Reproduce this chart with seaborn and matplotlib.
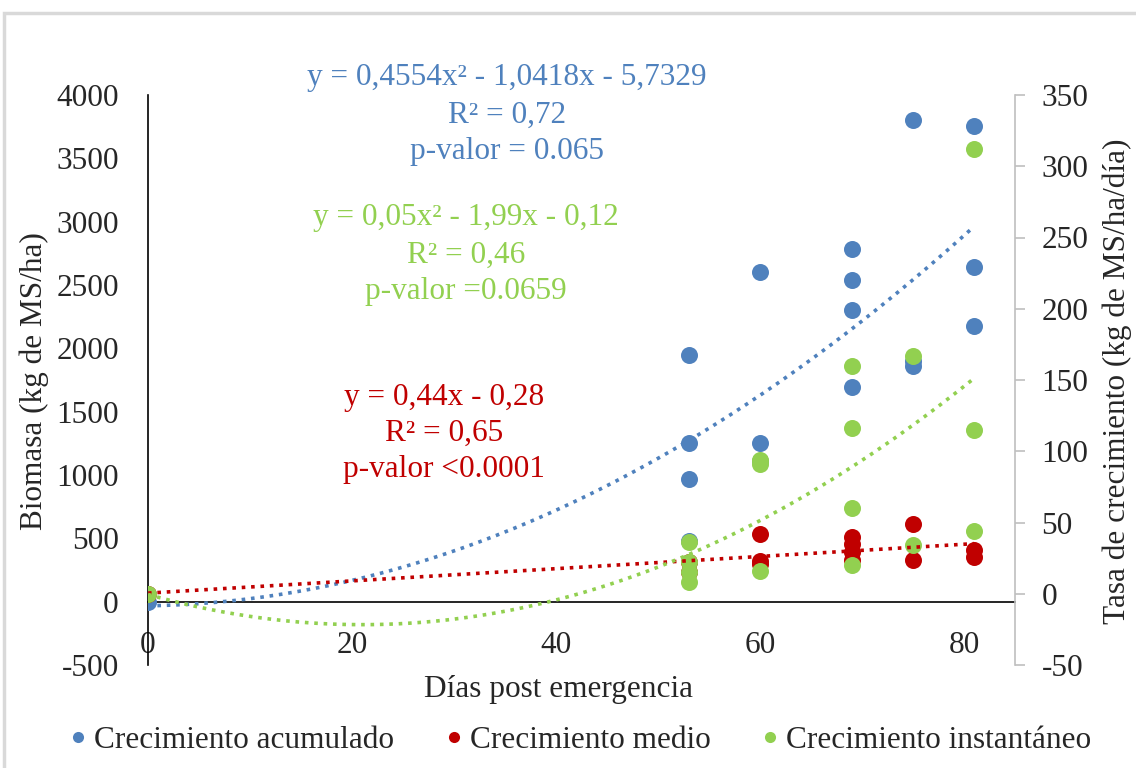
import numpy as np
import pandas as pd
import matplotlib
matplotlib.use("Agg")
import matplotlib.pyplot as plt
import seaborn as sns
from matplotlib.patches import Rectangle
from matplotlib.lines import Line2D

# ---------------- data ----------------
acum_x = [0, 53, 53, 53, 53, 60, 60, 60, 69, 69, 69, 69, 75, 75, 75, 81, 81, 81]
acum_y = [0, 1945, 1252, 966, 480, 2604, 1252, 1110, 2786, 2536, 2305, 1692,
          3804, 1900, 1862, 3752, 2641, 2180]

medio_x = [0, 53, 53, 60, 60, 60, 69, 69, 69, 69, 75, 75, 81, 81]
medio_y = [0, 22, 15, 42, 21, 23, 40, 35, 29, 24, 49, 24, 31, 26]

inst_x = [0, 53, 53, 53, 53, 60, 60, 60, 69, 69, 69, 69, 75, 75, 81, 81, 81]
inst_y = [0, 36, 22, 15, 8, 94, 91, 16, 160, 116, 60, 20, 167, 34, 312, 115, 44]

series_names = ["Crecimiento acumulado", "Crecimiento medio", "Crecimiento instantáneo"]
colors = ["#4F81BD", "#C00000", "#92D050"]

x_ticks = [0, 20, 40, 60, 80]
left_ticks = [-500, 0, 500, 1000, 1500, 2000, 2500, 3000, 3500, 4000]
right_ticks = [-50, 0, 50, 100, 150, 200, 250, 300, 350]

eq_blue = ["y = 0,4554x² - 1,0418x - 5,7329", "R² = 0,72", "p-valor = 0.065"]
eq_green = ["y = 0,05x² - 1,99x - 0,12", "R² = 0,46", "p-valor =0.0659"]
eq_red = ["y = 0,44x - 0,28", "R² = 0,65", "p-valor <0.0001"]

# ---------------- style ----------------
sns.set_style("white")
plt.rcParams["font.family"] = ["Liberation Serif", "DejaVu Serif"]
plt.rcParams["axes.unicode_minus"] = False
FS = 22.5

W, H = 1136, 768
fig = plt.figure(figsize=(W / 100, H / 100), dpi=100)

def fx(px):
    return px / W

def fy(py):
    return 1 - py / H

ax = fig.add_axes([fx(148), fy(665), 867 / W, 570 / H])
ax2 = ax.twinx()
ax2.set_position([fx(148), fy(665), 867 / W, 570 / H])

df_a = pd.DataFrame({"x": acum_x, "y": acum_y})
df_m = pd.DataFrame({"x": medio_x, "y": medio_y})
df_i = pd.DataFrame({"x": inst_x, "y": inst_y})

ms = 150
sns.scatterplot(data=df_a, x="x", y="y", ax=ax, color=colors[0], s=ms,
                linewidth=0, legend=False, zorder=3)
sns.scatterplot(data=df_m, x="x", y="y", ax=ax2, color=colors[1], s=ms,
                linewidth=0, legend=False, zorder=3)
sns.scatterplot(data=df_i, x="x", y="y", ax=ax2, color=colors[2], s=ms,
                linewidth=0, legend=False, zorder=4)

# trend lines (least squares fits, like the spreadsheet trendlines)
xs = np.linspace(0, max(acum_x), 200)
pa = np.polyfit(acum_x, acum_y, 2)
pm = np.polyfit(medio_x, medio_y, 1)
pi = np.polyfit(inst_x, inst_y, 2)
dot = (0, (1, 1.6))
sns.lineplot(x=xs, y=np.polyval(pa, xs), ax=ax, color=colors[0], lw=2.6,
             linestyle=dot, zorder=5)
sns.lineplot(x=xs, y=np.polyval(pm, xs), ax=ax2, color=colors[1], lw=2.6,
             linestyle=dot, zorder=5)
sns.lineplot(x=xs, y=np.polyval(pi, xs), ax=ax2, color=colors[2], lw=2.6,
             linestyle=dot, zorder=5)

# ---------------- axes ----------------
ax.set_xlim(0, 85)
ax.set_ylim(-500, 4000)
ax2.set_ylim(-50, 350)
ax.set_xticks(x_ticks)
ax.set_yticks(left_ticks)
ax2.set_yticks(right_ticks)
ax.set_xlabel("")
ax.set_ylabel("")
ax2.set_xlabel("")
ax2.set_ylabel("")

for a in (ax, ax2):
    for s in a.spines.values():
        s.set_visible(False)
ax.spines["left"].set_visible(True)
ax.spines["left"].set_color("black")
ax.spines["left"].set_linewidth(1.2)
ax.spines["bottom"].set_visible(True)
ax.spines["bottom"].set_position(("data", 0))
ax.spines["bottom"].set_color("black")
ax.spines["bottom"].set_linewidth(1.2)
ax2.spines["right"].set_visible(True)
ax2.spines["right"].set_color("#BFBFBF")
ax2.spines["right"].set_linewidth(1.2)

ax.tick_params(axis="x", length=0, pad=21, labelsize=FS)
ax.tick_params(axis="y", length=0, pad=21, labelsize=FS)
ax2.tick_params(axis="y", length=7, width=1.2, color="#BFBFBF", pad=12,
                labelsize=FS, right=True)
ax.grid(False)
ax2.grid(False)
ax.patch.set_visible(False)
ax2.patch.set_visible(False)

# ---------------- labels ----------------
fig.text(fx(558), fy(690), "Días post emergencia", ha="center", va="center", fontsize=FS)
fig.text(fx(34), fy(381), "Biomasa (kg de MS/ha)", ha="center", va="center",
         rotation=90, fontsize=FS)
fig.text(fx(1117), fy(381), "Tasa de crecimiento (kg de MS/ha/día)", ha="center",
         va="center", rotation=90, fontsize=FS)

for lines, cx, ys, col in [(eq_blue, 507, [78, 115, 152], colors[0]),
                           (eq_green, 466, [218, 255, 292], colors[2]),
                           (eq_red, 444, [397, 433, 470], colors[1])]:
    for t, yy in zip(lines, ys):
        fig.text(fx(cx), fy(yy), t, ha="center", va="center", fontsize=FS, color=col)

# ---------------- legend ----------------
handles = [Line2D([], [], marker="o", linestyle="", markersize=8,
                  markerfacecolor=c, markeredgewidth=0) for c in colors]
fig.legend(handles, series_names, loc="center", bbox_to_anchor=(fx(577), fy(740)),
           ncol=3, frameon=False, fontsize=FS, handletextpad=0.0,
           columnspacing=1.42, handlelength=1.0, borderaxespad=0)

# outer chart border
fig.patches.append(Rectangle((fx(4), -0.1), 1.2, fy(13) + 0.1, transform=fig.transFigure,
                             fill=False, edgecolor="#D9D9D9", lw=2.5, zorder=0))

fig.savefig("out.png", dpi=100)
